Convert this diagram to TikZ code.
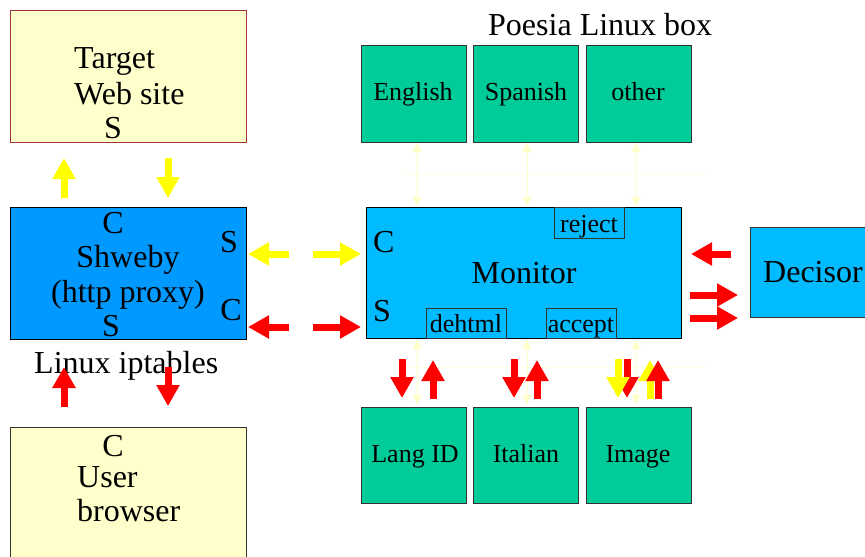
\documentclass[tikz,border=0pt]{standalone}
\usepackage{fontspec}
\setmainfont{Liberation Serif}
\usetikzlibrary{arrows.meta}
\definecolor{cream}{HTML}{FFFFCC}
\definecolor{targetred}{HTML}{A03333}
\definecolor{proxyblue}{HTML}{0099FF}
\definecolor{monblue}{HTML}{00BBFF}
\definecolor{langgreen}{HTML}{00CC99}
\definecolor{boxedge}{HTML}{333333}
\definecolor{flowyellow}{HTML}{FFFF00}
\definecolor{flowred}{HTML}{FF0000}
\definecolor{paleline}{HTML}{FFFFCC}
\newcommand\bigtxt{\fontsize{32}{36}\selectfont}
\newcommand\smalltxt{\fontsize{26}{30}\selectfont}
\tikzset{
  panel/.style={draw, rectangle, line width=1pt, inner sep=0pt, anchor=north west},
  langbox/.style={panel, fill=langgreen, draw=boxedge, minimum width=105pt, minimum height=97pt},
  tagbox/.style={panel, draw=boxedge, minimum height=31pt},
  big/.style={inner sep=0pt, font=\bigtxt},
  small/.style={inner sep=0pt, font=\smalltxt},
  blockarrow/.style={line width=7pt, -{Triangle[width=22pt,length=21pt]}},
  paleflow/.style={draw=paleline, line width=1pt, {Triangle[width=9pt,length=9pt]}-{Triangle[width=9pt,length=9pt]}},
  palebus/.style={draw=paleline, line width=1pt, densely dotted}
}
\begin{document}
\begin{tikzpicture}[x=1pt,y=-1pt]
\useasboundingbox (0,0) rectangle (865,557);
\clip (0,0) rectangle (865,557);

% left column: web site, proxy, browser
\node[panel, fill=cream, draw=targetred, minimum width=236pt, minimum height=132pt] (target) at (10,10) {};
\node[big, anchor=base west] (tgtA) at (74,68) {Target};
\node[big, anchor=base west] (tgtB) at (74,104) {Web site};
\node[big, anchor=base] (tgtS) at (113,138) {S};

\node[panel, fill=proxyblue, draw=black, minimum width=236pt, minimum height=132pt] (proxy) at (10,207) {};
\node[big, anchor=base] (pxC) at (113,233) {C};
\node[big, anchor=base] (pxA) at (128,267) {Shweby};
\node[big, anchor=base] (pxB) at (128,302) {(http proxy)};
\node[big, anchor=base] (pxS) at (111,336) {S};
\node[big, anchor=base] (pxRS) at (229,252) {S};
\node[big, anchor=base] (pxRC) at (231,320) {C};
\node[big, anchor=base west] (iptables) at (34,373) {Linux iptables};

\node[panel, fill=cream, draw=boxedge, minimum width=236pt, minimum height=150pt] (browser) at (10,427) {};
\node[big, anchor=base] (brC) at (113,456) {C};
\node[big, anchor=base west] (brA) at (77,487) {User};
\node[big, anchor=base west] (brB) at (77,521) {browser};

% Poesia box: language filters and monitor
\node[big, anchor=base west] (poesia) at (488,35) {Poesia Linux box};
\node[langbox] (english) at (361,45) {};
\node[langbox] (spanish) at (473,45) {};
\node[langbox] (other) at (586,45) {};
\node[small, anchor=base] (englishT) at (413,100) {English};
\node[small, anchor=base] (spanishT) at (526,100) {Spanish};
\node[small, anchor=base] (otherT) at (638,100) {other};

\node[langbox, minimum height=96pt] (langid) at (361,407) {};
\node[langbox, minimum height=96pt] (italian) at (473,407) {};
\node[langbox, minimum height=96pt] (image) at (586,407) {};
\node[small, anchor=base] (langidT) at (415,462) {Lang ID};
\node[small, anchor=base] (italianT) at (526,462) {Italian};
\node[small, anchor=base] (imageT) at (638,462) {Image};

% internal buses between monitor and filters
\draw[palebus] (402,173) -- (705,173);
\draw[palebus] (400,367) -- (705,367);
\foreach \x/\n in {417/a,527/b,636/c}{
  \coordinate (up\n) at (\x,143);
  \coordinate (upm\n) at (\x,206);
  \coordinate (dnm\n) at (\x,340);
  \coordinate (dn\n) at (\x,404);
  \draw[paleflow] (up\n) -- (upm\n);
  \draw[paleflow] (dnm\n) -- (dn\n);
}

\node[panel, fill=monblue, draw=black, minimum width=315pt, minimum height=131pt] (monitor) at (366,207) {};
\node[big, anchor=base west] (monC) at (373,252) {C};
\node[big, anchor=base west] (monS) at (373,321) {S};
\node[big, anchor=base] (monT) at (524,283) {Monitor};
\node[tagbox, minimum width=70pt] (reject) at (554,207) {};
\node[small, anchor=base] (rejectT) at (589,232) {reject};
\node[tagbox, minimum width=80pt, minimum height=30pt] (dehtml) at (426,308) {};
\node[small, anchor=base] (dehtmlT) at (466,332) {dehtml};
\node[tagbox, minimum width=70pt, minimum height=30pt] (accept) at (546,308) {};
\node[small, anchor=base] (acceptT) at (581,332) {accept};

\node[panel, fill=monblue, draw=boxedge, minimum width=140pt, minimum height=90pt] (decisor) at (750,227) {};
\node[big, anchor=base west] (decisorT) at (763,282) {Decisor};

% traffic arrows
\draw[blockarrow, flowyellow] (64,198) -- (64,158);
\draw[blockarrow, flowyellow] (168,158) -- (168,198);
\draw[blockarrow, flowred] (64,407) -- (64,367);
\draw[blockarrow, flowred] (168,367) -- (168,406);

\draw[blockarrow, flowyellow] (289,254) -- (248,254);
\draw[blockarrow, flowyellow] (313,254) -- (361,254);
\draw[blockarrow, flowred] (289,327) -- (248,327);
\draw[blockarrow, flowred] (313,327) -- (361,327);

\draw[blockarrow, flowred] (731,254) -- (691,254);
\draw[blockarrow, flowred] (690,295) -- (738,295);
\draw[blockarrow, flowred] (690,318) -- (738,318);

\draw[blockarrow, flowred] (402,359) -- (402,398);
\draw[blockarrow, flowred] (433,399) -- (433,360);
\draw[blockarrow, flowred] (514,359) -- (514,398);
\draw[blockarrow, flowred] (537,399) -- (537,360);
\draw[blockarrow, flowred] (627,359) -- (627,398);
\draw[blockarrow, flowyellow] (618,359) -- (618,398);
\draw[blockarrow, flowyellow] (650,399) -- (650,360);
\draw[blockarrow, flowred] (658,399) -- (658,360);
\end{tikzpicture}
\end{document}
